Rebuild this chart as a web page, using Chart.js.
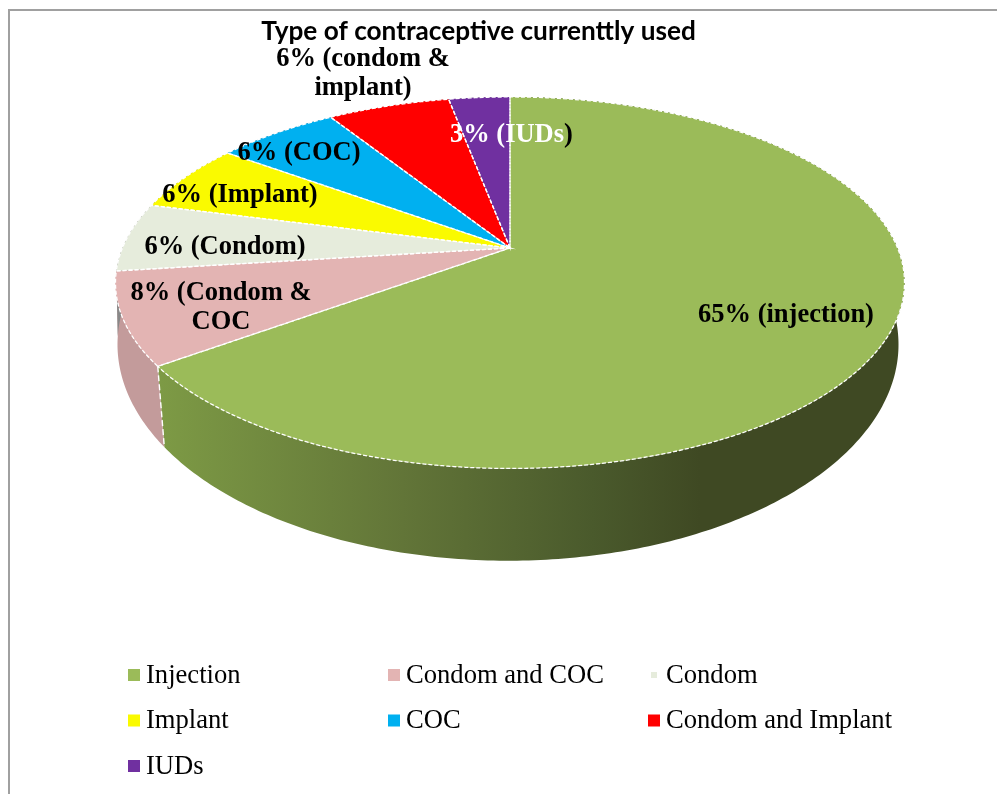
<!DOCTYPE html>
<html>
<head>
<meta charset="utf-8">
<script src="https://cdn.jsdelivr.net/npm/chart.js@4/dist/chart.umd.js"></script>
<style>
html, body { margin: 0; background: #fff; }
#frame { position: absolute; left: 8px; top: 9px; width: 1200px; height: 1000px; border: 2px solid #a0a0a0; box-sizing: border-box; }
#wrap { position: absolute; left: 0; top: 0; width: 997px; height: 794px; overflow: hidden; }
canvas { position: absolute; left: 0; top: 0; }
</style>
</head>
<body>
<div id="wrap">
<div id="frame"></div>
<canvas id="pie" width="957" height="794"></canvas>
</div>
<script>
const categories = ['Injection', 'Condom and COC', 'Condom', 'Implant', 'COC', 'Condom and Implant', 'IUDs'];
const shares = [65, 8, 6, 6, 6, 6, 3];
const sliceColors = ['#9BBB59', '#E3B4B3', '#E6ECDC', '#FAFA00', '#00B0F0', '#FF0000', '#7030A0'];
const sliceLabels = [
    ['65% (injection)'],
    ['8% (Condom &', 'COC'],
    ['6% (Condom)'],
    ['6% (Implant)'],
    ['6% (COC)'],
    ['6% (condom &', 'implant)'],
    ['3% (IUDs']
];

// label centres, picked by eye (the original labels were dragged by hand)
const labelSpots = [[786, 315], [221, 293], [225, 247], [240, 195], [299, 153], [363, 59], [507, 135]];
const labelLineGap = 29.5;
const serif = '"Liberation Serif", serif';

// perspective of the tilted disc, pie circle -> screen
// the pie sits right of the title centre in the original, hence dx
const tilt = -0.187;
const topFace = { sx: 2.566, sy: 1.187, dx: 31.5, dy: 0, skew: 0 };
const bottomFace = { sx: 2.54, sy: 1.382, dx: 29.5, dy: 56, skew: -0.025 };

function project(el, face, a) {
    let b = a + face.skew;
    let den = 1 + tilt * Math.sin(b);
    return [
        el.x + face.dx + el.outerRadius * face.sx * Math.cos(b) / den,
        el.y + face.dy + el.outerRadius * face.sy * Math.sin(b) / den
    ];
}

function arcPoints(el, face, reverse) {
    let pts = [];
    let n = Math.max(6, Math.ceil((el.endAngle - el.startAngle) * 80));
    for (let i = 0; i <= n; i++) {
        let t = reverse ? 1 - i / n : i / n;
        pts.push(project(el, face, el.startAngle + (el.endAngle - el.startAngle) * t));
    }
    return pts;
}

function tracePoints(ctx, pts, first) {
    pts.forEach((p, i) => {
        if (i === 0 && first) ctx.moveTo(p[0], p[1]);
        else ctx.lineTo(p[0], p[1]);
    });
}

function wallFill(ctx, i) {
    if (i === 0) {
        let g = ctx.createLinearGradient(160, 0, 700, 0);
        g.addColorStop(0, '#7D9A45');
        g.addColorStop(0.45, '#627538');
        g.addColorStop(0.8, '#4A5A2C');
        g.addColorStop(1, '#3F4923');
        return g;
    }
    if (i === 1) return '#C39B9B';
    return '#888888';
}

const tiltedPie = {
    id: 'tiltedPie',
    beforeDatasetsDraw(chart) {
        let ctx = chart.ctx;
        let arcs = chart.getDatasetMeta(0).data;

        // side wall first, the top face covers what is behind it
        ctx.save();
        arcs.forEach((el, i) => {
            ctx.beginPath();
            tracePoints(ctx, arcPoints(el, topFace, false), true);
            tracePoints(ctx, arcPoints(el, bottomFace, true), false);
            ctx.closePath();
            ctx.fillStyle = wallFill(ctx, i);
            ctx.fill();
        });
        // seam between the two visible wall pieces
        let seamTop = project(arcs[0], topFace, arcs[0].endAngle);
        let seamBottom = project(arcs[0], bottomFace, arcs[0].endAngle);
        ctx.strokeStyle = '#fff';
        ctx.lineWidth = 1.4;
        ctx.setLineDash([6, 3]);
        ctx.beginPath();
        ctx.moveTo(seamTop[0], seamTop[1]);
        ctx.lineTo(seamBottom[0], seamBottom[1]);
        ctx.stroke();
        ctx.restore();

        // top face
        ctx.save();
        arcs.forEach((el, i) => {
            ctx.beginPath();
            ctx.moveTo(el.x + topFace.dx, el.y);
            tracePoints(ctx, arcPoints(el, topFace, false), false);
            ctx.closePath();
            ctx.fillStyle = sliceColors[i];
            ctx.fill();
        });
        ctx.strokeStyle = '#fff';
        ctx.lineWidth = 1.3;
        ctx.setLineDash([4, 2]);
        arcs.forEach((el) => {
            ctx.beginPath();
            ctx.moveTo(el.x + topFace.dx, el.y);
            tracePoints(ctx, arcPoints(el, topFace, false), false);
            ctx.closePath();
            ctx.stroke();
        });
        ctx.restore();
        return false;
    },
    afterDraw(chart) {
        let ctx = chart.ctx;
        ctx.save();
        ctx.font = 'bold 26.5px ' + serif;
        ctx.textAlign = 'center';
        ctx.textBaseline = 'middle';
        sliceLabels.forEach((lines, i) => {
            ctx.fillStyle = i === 6 ? '#fff' : '#000';
            lines.forEach((line, j) => {
                ctx.fillText(line, labelSpots[i][0], labelSpots[i][1] + j * labelLineGap);
            });
        });
        // closing bracket of the IUDs label stays black, it falls outside the slice
        let iuds = sliceLabels[6][0];
        ctx.textAlign = 'left';
        ctx.fillStyle = '#000';
        ctx.fillText(')', labelSpots[6][0] + ctx.measureText(iuds).width / 2, labelSpots[6][1]);

        // legend, three columns
        ctx.font = '26.6px ' + serif;
        categories.forEach((name, i) => {
            let col = i % 3;
            let row = Math.floor(i / 3);
            let x = 128 + col * 260;
            let y = 675 + row * 45.5;
            let inset = i === 2 ? 3 : 0;
            ctx.fillStyle = sliceColors[i];
            ctx.fillRect(x + inset, y - 6 + inset, 12 - 2 * inset, 12 - 2 * inset);
            ctx.fillStyle = '#000';
            ctx.fillText(name, x + 18, y + 1);
        });
        ctx.restore();
    }
};

new Chart(document.getElementById('pie'), {
    type: 'pie',
    data: {
        labels: categories,
        datasets: [{ data: shares, backgroundColor: sliceColors }]
    },
    options: {
        responsive: false,
        animation: false,
        layout: { padding: { left: 0, right: 0, top: 0, bottom: 394 } },
        plugins: {
            legend: { display: false },
            tooltip: { enabled: false },
            title: {
                display: true,
                text: 'Type of contraceptive currenttly used',
                color: '#000',
                font: { family: 'Lato', weight: 'bold', size: 26.2, lineHeight: 1.2 },
                padding: { top: 16, bottom: 48.5 }
            }
        }
    },
    plugins: [tiltedPie]
});
</script>
</body>
</html>
